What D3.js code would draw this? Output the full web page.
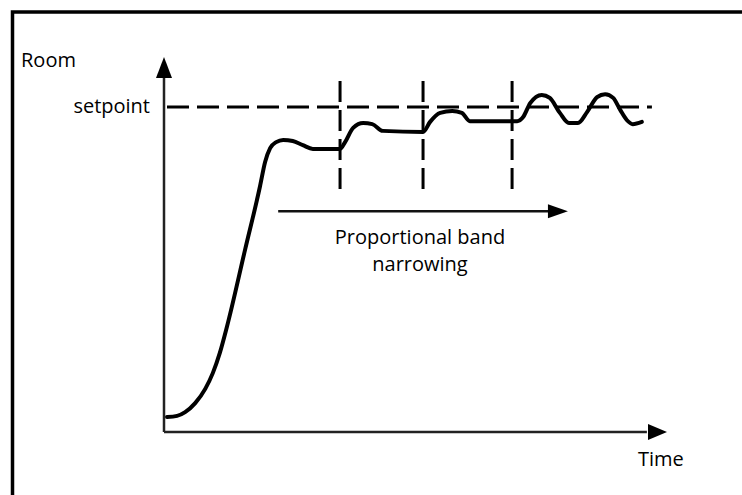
<!DOCTYPE html>
<html>
<head>
<meta charset="utf-8">
<script src="https://cdn.jsdelivr.net/npm/d3@7"></script>
<style>
  html, body { margin: 0; padding: 0; background: #fff; }
  svg { display: block; }
  text { font-family: "Open Sans", "Liberation Sans", sans-serif; fill: #000; }
</style>
</head>
<body>
<svg id="chart" width="742" height="495"></svg>
<script>
// ---- data (time in arbitrary units 0-100, room temperature in arbitrary units 0-100)
const curveTime = [0.6, 2.6, 4.2, 6.2, 8.2, 9.7, 11.1, 12.5, 16.1, 19.1, 20.1, 21.1, 22.3, 23.7, 25.6, 27.6, 29.6, 35.0,
  36.0, 37.6, 39.6, 41.4, 43.5, 51.5, 52.9, 54.9, 57.3, 59.2, 60.8, 70.2, 71.4, 72.8, 75.1, 76.7, 78.7, 80.5, 82.3,
  84.1, 86.1, 87.7, 89.3, 90.7, 92.0, 93.2, 95.0];
const curveTemp = [4.0, 4.3, 5.3, 7.7, 11.5, 15.7, 21.1, 28.0, 48.5, 65.6, 72.0, 75.7, 77.3, 77.9, 77.6, 76.5, 75.5, 75.5,
  77.3, 81.1, 82.4, 82.1, 80.3, 80.0, 82.7, 85.1, 85.6, 85.1, 82.9, 82.9, 84.0, 87.7, 89.9, 89.1, 85.1, 82.4, 82.4,
  85.3, 89.3, 90.1, 89.1, 85.9, 83.2, 82.1, 82.7];
const setpointValue = 86.7;
const setpointEnd = 97.0;
const bandTimes = [35.0, 51.5, 69.2];
const bandTop = 93.6, bandBottom = 63.7;
const arrowLevel = 58.9, arrowStart = 22.7, arrowEnd = 80.3;
const labels = { yTitle: "Room", setpoint: "setpoint", xTitle: "Time", note: ["Proportional band", "narrowing"] };

const svg = d3.select("#chart");
const x = d3.scaleLinear().domain([0, 100]).range([164, 667]);
const y = d3.scaleLinear().domain([0, 100]).range([432, 57]);

// frame
svg.append("rect").attr("x", 12.5).attr("y", 12).attr("width", 800).attr("height", 600)
  .attr("fill", "none").attr("stroke", "#000").attr("stroke-width", 3.5);

// axes
const axisColor = "#222";
svg.append("line").attr("x1", x(0)).attr("y1", y(0)).attr("x2", x(0)).attr("y2", y(94.5))
  .attr("stroke", axisColor).attr("stroke-width", 2.5);
svg.append("line").attr("x1", x(0)).attr("y1", y(0)).attr("x2", x(96)).attr("y2", y(0))
  .attr("stroke", axisColor).attr("stroke-width", 2.5);
// arrow heads
svg.append("path").attr("d", `M${x(0)},${y(100)} L${x(0) - 8},${y(100) + 21} L${x(0) + 8},${y(100) + 21} Z`).attr("fill", "#000");
svg.append("path").attr("d", `M${x(100)},${y(0)} L${x(100) - 19},${y(0) - 8} L${x(100) - 19},${y(0) + 8} Z`).attr("fill", "#000");

// setpoint dashed line
svg.append("line").attr("x1", x(0)).attr("x2", x(setpointEnd)).attr("y1", y(setpointValue)).attr("y2", y(setpointValue))
  .attr("stroke", "#000").attr("stroke-width", 3).attr("stroke-dasharray", "22,8").attr("stroke-dashoffset", -3);

// vertical dashed band lines
svg.selectAll(".band").data(bandTimes).join("line").attr("class", "band")
  .attr("x1", d => x(d)).attr("x2", d => x(d)).attr("y1", y(bandTop)).attr("y2", y(bandBottom))
  .attr("stroke", "#000").attr("stroke-width", 3).attr("stroke-dasharray", "21,8");

// response curve
const pts = curveTime.map((t, i) => [t, curveTemp[i]]);
svg.append("path").datum(pts)
  .attr("d", d3.line().x(d => x(d[0])).y(d => y(d[1])).curve(d3.curveMonotoneX))
  .attr("fill", "none").attr("stroke", "#000").attr("stroke-width", 4).attr("stroke-linejoin", "round").attr("stroke-linecap", "round");

// narrowing arrow
svg.append("line").attr("x1", x(arrowStart)).attr("x2", x(arrowEnd) - 16).attr("y1", y(arrowLevel)).attr("y2", y(arrowLevel))
  .attr("stroke", "#111").attr("stroke-width", 2.5);
svg.append("path").attr("d", `M${x(arrowEnd)},${y(arrowLevel)} L${x(arrowEnd) - 20},${y(arrowLevel) - 7} L${x(arrowEnd) - 20},${y(arrowLevel) + 7} Z`).attr("fill", "#000");

// texts
const fs = 20;
svg.append("text").attr("x", 21).attr("y", 67).attr("font-size", fs).text(labels.yTitle);
svg.append("text").attr("x", 150).attr("y", 113).attr("font-size", fs).attr("text-anchor", "end").text(labels.setpoint);
svg.append("text").attr("x", 638).attr("y", 466).attr("font-size", fs).text(labels.xTitle);
svg.selectAll(".note").data(labels.note).join("text").attr("class", "note")
  .attr("x", 420).attr("y", (d, i) => 244 + i * 27).attr("text-anchor", "middle").attr("font-size", fs).text(d => d);
</script>
</body>
</html>
